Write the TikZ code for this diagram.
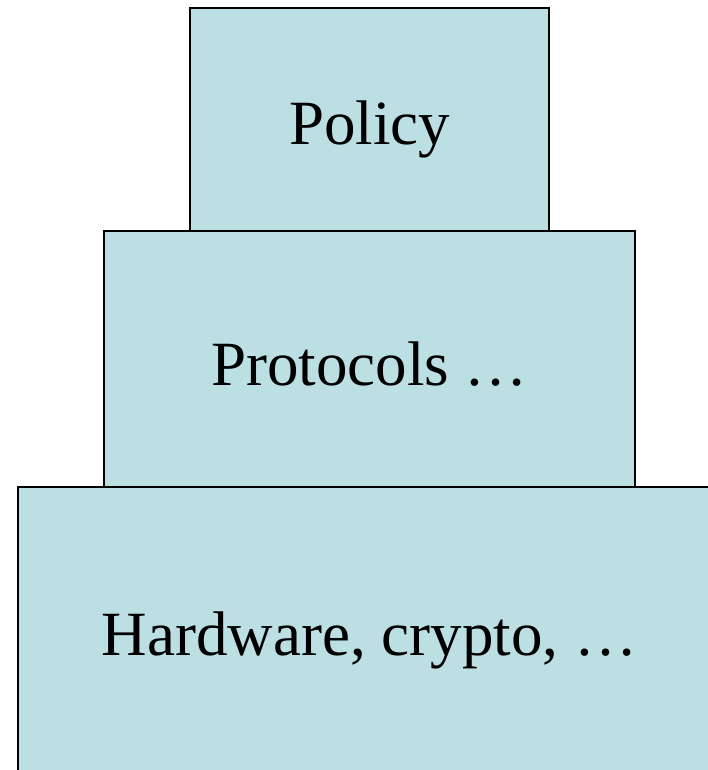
\documentclass[tikz,border=0pt]{standalone}
\usepackage{fontspec}
\setmainfont{Liberation Serif}
\definecolor{layerblue}{RGB}{187,223,227}

\begin{document}
\begin{tikzpicture} [x=1pt,y=-1pt,
		layer/.style={draw=black,line width=2pt,fill=layerblue,inner sep=0pt},
		layer text/.style={anchor=base,font=\fontsize{63}{72}\selectfont}]

	\useasboundingbox (0,0) rectangle (708,770);
	\clip (0,0) rectangle (708,770);

	\node [layer, minimum width=703pt, minimum height=320pt] (layer-hw) at (369.5,647) {};
	\node [layer, minimum width=531pt, minimum height=256pt] (layer-proto) at (369.5,359) {};
	\node [layer, minimum width=359pt, minimum height=223pt] (layer-policy) at (369.5,119.5) {};

	\node [layer text] (text-policy) at (369.5,145) {Policy};
	\node [layer text] (text-proto) at (369.5,385) {Protocols …};
	\node [layer text] (text-hw) at (369.5,655) {Hardware, crypto, …};
\end{tikzpicture}
\end{document}
